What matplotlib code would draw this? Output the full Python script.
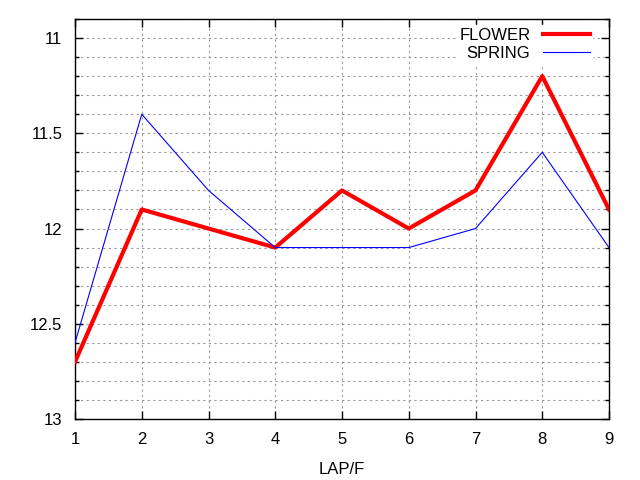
import matplotlib
matplotlib.use('Agg')
import matplotlib.pyplot as plt
from matplotlib.ticker import MultipleLocator

laps = [1, 2, 3, 4, 5, 6, 7, 8, 9]
flower = [12.7, 11.9, 12.0, 12.1, 11.8, 12.0, 11.8, 11.2, 11.9]
spring = [12.6, 11.4, 11.8, 12.1, 12.1, 12.1, 12.0, 11.6, 12.1]

plt.rcParams['font.family'] = ['Liberation Sans', 'DejaVu Sans']

fig = plt.figure(figsize=(6.4, 4.8), dpi=100)
ax = fig.add_axes([75 / 640, 1 - 419 / 480, (609 - 75) / 640, (419 - 19) / 480])

ax.plot(laps, flower, color='red', linewidth=3, label='FLOWER', zorder=3)
ax.plot(laps, spring, color='blue', linewidth=0.8, label='SPRING', zorder=3)

ax.set_xlim(1, 9)
ax.set_ylim(13, 10.9)
ax.set_yticks([11, 11.5, 12, 12.5, 13])
ax.set_yticklabels(['11', '11.5', '12', '12.5', '13'])
ax.yaxis.set_minor_locator(MultipleLocator(0.1))
ax.set_xticks(laps)

ax.tick_params(which='both', direction='in', top=True, right=True,
               labelsize=12, width=1)
ax.tick_params(which='major', length=6, pad=9)
ax.tick_params(which='minor', length=3)
ax.grid(True, which='both', linestyle=(0, (2, 3)), color='#999999', linewidth=0.8)
for s in ax.spines.values():
    s.set_linewidth(1)

ax.set_xlabel('LAP/F', fontsize=12, labelpad=11)

leg = ax.legend(loc='upper right', frameon=True, fancybox=False, framealpha=1,
                edgecolor='white', fontsize=12, markerfirst=False,
                handlelength=2.8, handletextpad=0.75, borderpad=0.15,
                labelspacing=0.2, bbox_to_anchor=(0.984, 1.005))
for t in leg.get_texts():
    t.set_ha('right')

fig.savefig('out.png', dpi=100)
